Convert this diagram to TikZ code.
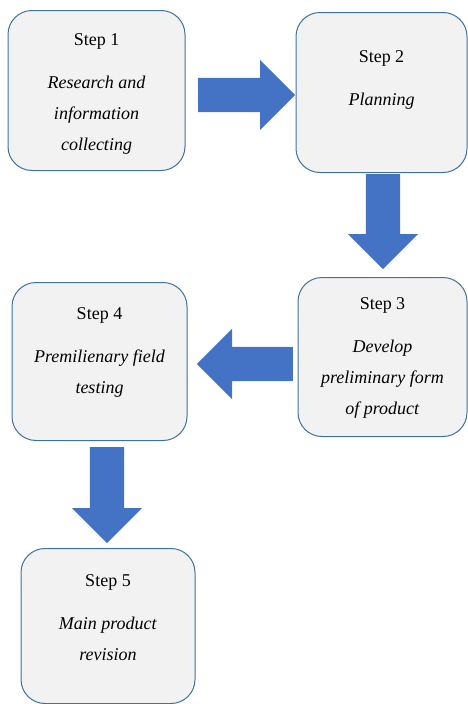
\documentclass[tikz,border=0pt]{standalone}
\usepackage{fontspec}
\setmainfont{Liberation Serif}
\usetikzlibrary{positioning,shapes.arrows}
\definecolor{stepline}{HTML}{41719C}
\definecolor{stepfill}{HTML}{F2F2F2}
\definecolor{flowblue}{HTML}{4472C4}

\begin{document}
\begin{tikzpicture}[x=1pt, y=-1pt, font=\fontsize{18}{31}\selectfont,
  stp/.style={draw=stepline, fill=stepfill, line width=1pt, rounded corners=24pt, align=center, anchor=north, inner sep=0pt},
  blk/.style={single arrow, fill=flowblue, draw=none, anchor=tail, minimum height=96pt, single arrow head extend=18pt, inner xsep=0pt, inner ysep=17pt}
]
  \useasboundingbox (0,0) rectangle (468,704);
  \node[stp, minimum width=177pt, text height=140pt, text depth=20pt] (s1) at (96.5,10) {Step 1\\[12pt]\textit{Research and}\\\textit{information}\\\textit{collecting}};
  \node[stp, minimum width=171pt, text height=93pt, text depth=67pt] (s2) at (381.5,12) {Step 2\\[12pt]\textit{Planning}};
  \node[stp, minimum width=169pt, text height=137pt, text depth=22pt] (s3) at (382.5,277) {Step 3\\[12pt]\textit{Develop}\\\textit{preliminary form}\\\textit{of product}};
  \node[stp, minimum width=175pt, text height=111pt, text depth=47pt] (s4) at (99.5,282) {Step 4\\[12pt]\textit{Premilienary field}\\\textit{testing}};
  \node[stp, minimum width=174pt, text height=112pt, text depth=43pt] (s5) at (108,548) {Step 5\\[12pt]\textit{Main product}\\\textit{revision}};
  % block arrows between the steps
  \node[blk, minimum height=97pt] (a12) at (198,95) {};
  \node[blk, rotate=-90, minimum height=95pt] (a23) at (383,174) {};
  \node[blk, rotate=180] (a34) at (293,364) {};
  \node[blk, rotate=-90] (a45) at (107,447) {};
\end{tikzpicture}
\end{document}
